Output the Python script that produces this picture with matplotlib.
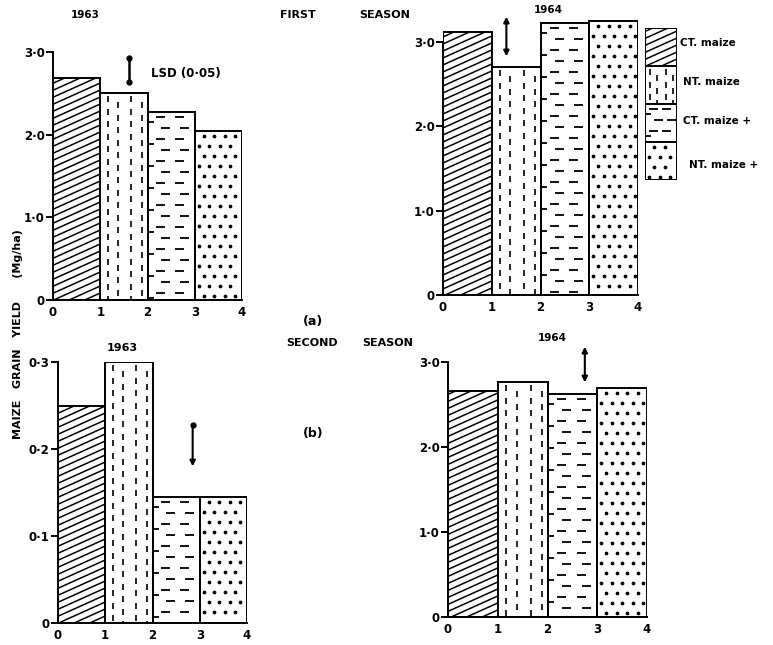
import numpy as np
import matplotlib
matplotlib.use("Agg")
import matplotlib.pyplot as plt
from matplotlib.patches import Rectangle
from matplotlib.collections import LineCollection
from matplotlib.lines import Line2D
from matplotlib.transforms import IdentityTransform

W, H = 773, 645

# ---- data -------------------------------------------------------------
treatments = ["CT. maize", "NT. maize", "CT. maize +", "NT. maize +"]
x_ticks = [0, 1, 2, 3, 4]

first_1963 = [2.69, 2.50, 2.28, 2.05]
first_1964 = [3.12, 2.70, 3.22, 3.25]
second_1963 = [0.25, 0.30, 0.145, 0.145]
second_1964 = [2.66, 2.76, 2.62, 2.69]

# LSD (0.05) markers: (x position, lower end, upper end)
lsd_first_1963 = (1.6, 2.64, 2.93)
lsd_first_1964 = (1.3, 2.83, 3.30)
lsd_second_1963 = (2.85, 0.18, 0.228)
lsd_second_1964 = (2.75, 2.76, 3.18)

yticks_main = [0, 1.0, 2.0, 3.0]
yticklabels_main = ["0", "1·0", "2·0", "3·0"]
yticks_small = [0, 0.1, 0.2, 0.3]
yticklabels_small = ["0", "0·1", "0·2", "0·3"]

patterns = ["diag", "vdash", "hdash", "dots"]

# ---- figure -----------------------------------------------------------
plt.rcParams["font.family"] = ["DejaVu Sans"]
plt.rcParams["font.weight"] = "bold"
fig = plt.figure(figsize=(W / 100, H / 100), dpi=100)
fig.patch.set_facecolor("white")

LW = 1.4


def fx(x):
    return x / W


def fy(y):
    return 1 - y / H


def add_panel(x0px, x4px, base_px, ref_px, ref_val, ymax):
    ppu = (base_px - ref_px) / ref_val
    top_px = base_px - ppu * ymax
    ax = fig.add_axes([x0px / W, 1 - base_px / H, (x4px - x0px) / W,
                       (base_px - top_px) / H])
    ax.set_xlim(0, 4)
    ax.set_ylim(0, ymax)
    ax.set_autoscale_on(False)
    for s in ("top", "right"):
        ax.spines[s].set_visible(False)
    ax.spines["left"].set_linewidth(LW)
    ax.spines["bottom"].set_linewidth(LW)
    ax.set_xticks(x_ticks)
    ax.set_xticklabels([str(t) for t in x_ticks], fontsize=8.5, fontweight="bold")
    ax.tick_params(axis="x", length=0, pad=4)
    ax.tick_params(axis="y", length=5, width=LW, pad=1)
    ax.patch.set_alpha(0)
    return ax


def draw_pattern(ax, patch, kind):
    (px0, py0), (px1, py1) = patch.get_transform().transform([(0, 0), (1, 1)])
    w, h = px1 - px0, py1 - py0
    tr = IdentityTransform()
    if kind == "diag":
        slope = 0.45
        segs = []
        c = -slope * w
        while c < h:
            segs.append([(px0, py0 + c), (px1, py0 + c + slope * w)])
            c += 7.0
        art = LineCollection(segs, colors="black", linewidths=1.1, transform=tr)
        ax.add_collection(art, autolim=False)
    elif kind == "vdash":
        offsets = [0.17, 0.38, 0.66, 0.88]
        segs = []
        for i, f in enumerate(offsets):
            cx = px0 + f * w
            y = py1 - 3 - (6 if i % 2 else 0)
            while y > py0:
                segs.append([(cx, y), (cx, y - 6.0)])
                y -= 12.5
        art = LineCollection(segs, colors="black", linewidths=1.2, transform=tr)
        ax.add_collection(art, autolim=False)
    elif kind == "hdash":
        segs = []
        y = py1 - 5
        k = 0
        while y > py0 + 2:
            shift = 3 if k % 2 else -2
            for f in (0.32, 0.72):
                cx = px0 + f * w + shift
                segs.append([(cx - 4.5, y), (cx + 4.5, y)])
            if k % 2 == 0:
                segs.append([(px0, y - 5), (px0 + 6, y - 5)])
            y -= 11.0
            k += 1
        art = LineCollection(segs, colors="black", linewidths=1.3, transform=tr)
        ax.add_collection(art, autolim=False)
    else:
        xs, ys = [], []
        y = py1 - 5
        k = 0
        while y > py0 + 2:
            x = px0 + (4 if k % 2 else 9)
            while x < px1 - 2:
                xs.append(x)
                ys.append(y)
                x += 10.5
            y -= 10.0
            k += 1
        art = Line2D(xs, ys, linestyle="none", marker="o", markersize=1.7,
                     color="black", transform=tr)
        ax.add_line(art)
    # clip to the bar outline (after adding, so the axes does not override it)
    art.set_clip_path(patch)


def draw_bars(ax, values):
    return ax.bar(x_ticks[:-1], values, width=1.0, align="edge",
                  color="white", edgecolor="black", linewidth=LW, zorder=1)


def lsd_arrow(ax, spec, style):
    x, lo, hi = spec
    if style == "dots":
        ax.plot([x, x], [lo, hi], color="black", lw=1.8, marker="o",
                markersize=3.5, clip_on=False, zorder=5)
    elif style == "dot_arrow":
        ax.annotate("", xy=(x, lo), xytext=(x, hi),
                    arrowprops=dict(arrowstyle="-|>", lw=1.5, color="black",
                                    mutation_scale=8, shrinkA=0, shrinkB=0),
                    annotation_clip=False)
        ax.plot([x], [hi], "o", color="black", markersize=3.5, clip_on=False)
    else:
        ax.annotate("", xy=(x, lo), xytext=(x, hi),
                    arrowprops=dict(arrowstyle="<|-|>", lw=1.5, color="black",
                                    mutation_scale=8, shrinkA=0, shrinkB=0),
                    annotation_clip=False)


panels = []

# (a) first season, 1963
ax1 = add_panel(53, 242, 300, 52, 3.0, 3.0)
ax1.set_yticks(yticks_main)
ax1.set_yticklabels(yticklabels_main, fontsize=8.5, fontweight="bold")
b1 = draw_bars(ax1, first_1963)
lsd_arrow(ax1, lsd_first_1963, "dots")
panels.append((ax1, b1))

# (a) first season, 1964
ax2 = add_panel(443, 638, 295, 42, 3.0, 3.3)
ax2.spines["left"].set_bounds(0, 3.0)
ax2.set_yticks(yticks_main)
ax2.set_yticklabels(yticklabels_main, fontsize=8.5, fontweight="bold")
b2 = draw_bars(ax2, first_1964)
lsd_arrow(ax2, lsd_first_1964, "both")
panels.append((ax2, b2))

# (b) second season, 1963
ax3 = add_panel(58, 247, 623, 362, 0.3, 0.3)
ax3.set_yticks(yticks_small)
ax3.set_yticklabels(yticklabels_small, fontsize=8.5, fontweight="bold")
b3 = draw_bars(ax3, second_1963)
lsd_arrow(ax3, lsd_second_1963, "dot_arrow")
panels.append((ax3, b3))

# (b) second season, 1964
ax4 = add_panel(448, 647, 617, 362, 3.0, 3.2)
ax4.spines["left"].set_bounds(0, 3.0)
ax4.set_yticks(yticks_main)
ax4.set_yticklabels(yticklabels_main, fontsize=8.5, fontweight="bold")
b4 = draw_bars(ax4, second_1964)
lsd_arrow(ax4, lsd_second_1964, "both")
panels.append((ax4, b4))

for ax, bars in panels:
    for patch, kind in zip(bars.patches, patterns):
        draw_pattern(ax, patch, kind)

# ---- legend (stacked pattern boxes) -------------------------------------
lax = fig.add_axes([fx(645), fy(180), (677 - 645) / W, (180 - 28) / H])
lax.set_xlim(0, 1)
lax.set_ylim(0, 4)
lax.set_autoscale_on(False)
lax.axis("off")
for i, kind in enumerate(patterns):
    r = Rectangle((0, 3 - i), 1, 1, facecolor="white", edgecolor="black",
                  linewidth=LW)
    lax.add_patch(r)
    draw_pattern(lax, r, kind)

legend_label_pos = [(680, 43), (683, 82), (683, 121), (689, 165)]
for (lx, ly), name in zip(legend_label_pos, treatments):
    fig.text(fx(lx), fy(ly), name, fontsize=7.5, fontweight="bold",
             ha="left", va="center")

# ---- text annotations ---------------------------------------------------
bold = dict(fontweight="bold", ha="center", va="center")
fig.text(fx(85), fy(15), "1963", fontsize=7.5, **bold)
fig.text(fx(298), fy(15), "FIRST", fontsize=8, **bold)
fig.text(fx(385), fy(15), "SEASON", fontsize=8, **bold)
fig.text(fx(548), fy(10), "1964", fontsize=7.5, **bold)
fig.text(fx(313), fy(322), "(a)", fontsize=9, **bold)
fig.text(fx(186), fy(73), "LSD (0·05)", fontsize=8.5, **bold)

fig.text(fx(122), fy(348), "1963", fontsize=8, **bold)
fig.text(fx(312), fy(343), "SECOND", fontsize=8, **bold)
fig.text(fx(388), fy(343), "SEASON", fontsize=8, **bold)
fig.text(fx(552), fy(338), "1964", fontsize=7.5, **bold)
fig.text(fx(313), fy(433), "(b)", fontsize=9, **bold)

fig.text(fx(18), fy(334), "MAIZE   GRAIN   YIELD      (Mg/ha)", fontsize=8,
         rotation=90, **bold)

fig.savefig("out.png", dpi=100, facecolor="white")
